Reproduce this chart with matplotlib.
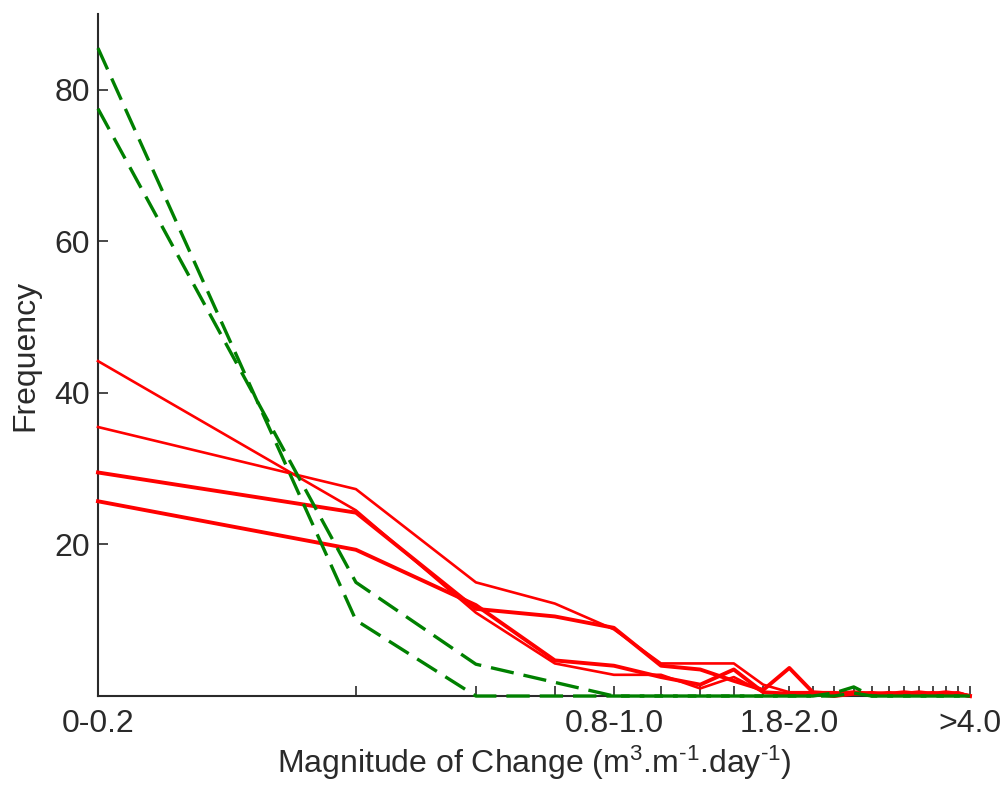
import numpy as np
import matplotlib
matplotlib.use('Agg')
import matplotlib.pyplot as plt

plt.rcParams['font.family'] = ['Liberation Sans', 'DejaVu Sans']
plt.rcParams['mathtext.fontset'] = 'custom'
plt.rcParams['mathtext.rm'] = 'Liberation Sans'
plt.rcParams['mathtext.it'] = 'Liberation Sans'
plt.rcParams['mathtext.default'] = 'regular'

# bin centres (m3/m/day), plotted on a log axis
bin_mid = [0.1, 0.3, 0.5, 0.7, 0.9, 1.1, 1.3, 1.5, 1.7, 1.9, 2.1,
           2.3, 2.5, 2.7, 2.9, 3.1, 3.3, 3.5, 3.7, 3.9, 4.1]
bin_labels = ['0-0.2', '', '', '', '0.8-1.0', '', '', '', '', '1.8-2.0', '',
              '', '', '', '', '', '', '', '', '', '>4.0']

# erosion-type runs (red)
red_a = [44.2, 24.5, 11.0, 4.3, 2.8, 2.8, 1.0, 2.5, 0.5, 0.3, 0.3,
         0.3, 0.3, 0.5, 0.3, 0.3, 0.3, 0.5, 0.3, 0.3, 0.0]
red_b = [35.5, 27.3, 15.0, 12.2, 8.8, 4.3, 4.3, 4.3, 1.5, 0.5, 0.5,
         0.5, 0.3, 0.3, 0.5, 0.3, 0.3, 0.3, 0.3, 0.5, 0.0]
red_c = [29.5, 24.2, 11.5, 10.5, 9.0, 4.0, 3.5, 2.0, 0.8, 3.7, 0.5,
         0.3, 0.5, 0.3, 0.3, 0.3, 0.5, 0.3, 0.5, 0.3, 0.0]
red_d = [25.7, 19.3, 12.0, 4.7, 4.0, 2.5, 1.5, 3.5, 0.5, 0.3, 0.3,
         0.0, 0.3, 0.3, 0.3, 0.5, 0.3, 0.3, 0.3, 0.3, 0.0]
# accretion-type runs (green, dashed)
green_a = [85.5, 10.0, 0.0, 0.0, 0.0, 0.0, 0.0, 0.0, 0.0, 0.0, 0.0,
           0.4, 1.2, 0.0, 0.0, 0.0, 0.0, 0.0, 0.0, 0.0, 0.0]
green_b = [77.5, 15.0, 4.2, 1.8, 0.0, 0.0, 0.0, 0.0, 0.0, 0.0, 0.0,
           0.0, 0.4, 0.0, 0.0, 0.0, 0.0, 0.0, 0.0, 0.0, 0.0]

fig = plt.figure(figsize=(10.08, 7.87), dpi=100)
ax = fig.add_axes([0.0972, 0.1156, 0.865, 0.8666])

ink = '#2a2a2a'
for vals, lw in [(red_a, 1.9), (red_b, 1.9), (red_c, 2.8), (red_d, 2.8)]:
    ax.plot(bin_mid, vals, color='#ff0000', lw=lw, zorder=3, clip_on=False)
for vals in [green_a, green_b]:
    ax.plot(bin_mid, vals, color='#008000', lw=2.4, dashes=(7, 3),
            zorder=4, clip_on=False)

ax.set_xscale('log')
ax.set_xlim(0.1, 4.1)
ax.set_ylim(0, 90)
ax.set_xticks(bin_mid)
ax.set_xticklabels(bin_labels)
ax.xaxis.set_minor_locator(matplotlib.ticker.NullLocator())
ax.set_yticks([20, 40, 60, 80])

for s in ['top', 'right']:
    ax.spines[s].set_visible(False)
for s in ['left', 'bottom']:
    ax.spines[s].set_color(ink)
    ax.spines[s].set_linewidth(1.5)

ax.tick_params(direction='in', length=7.5, width=1.2, colors=ink,
               labelsize=23, labelcolor=ink)
ax.tick_params(axis='x', pad=9)
ax.tick_params(axis='y', pad=6)

ax.set_xlabel(r'Magnitude of Change (m$^{3}$.m$^{\text{-}1}$.day$^{\text{-}1}$)',
              fontsize=23, color=ink, labelpad=4)
ax.set_ylabel('Frequency', fontsize=23, color=ink, labelpad=10)

fig.savefig('out.png', dpi=100)
